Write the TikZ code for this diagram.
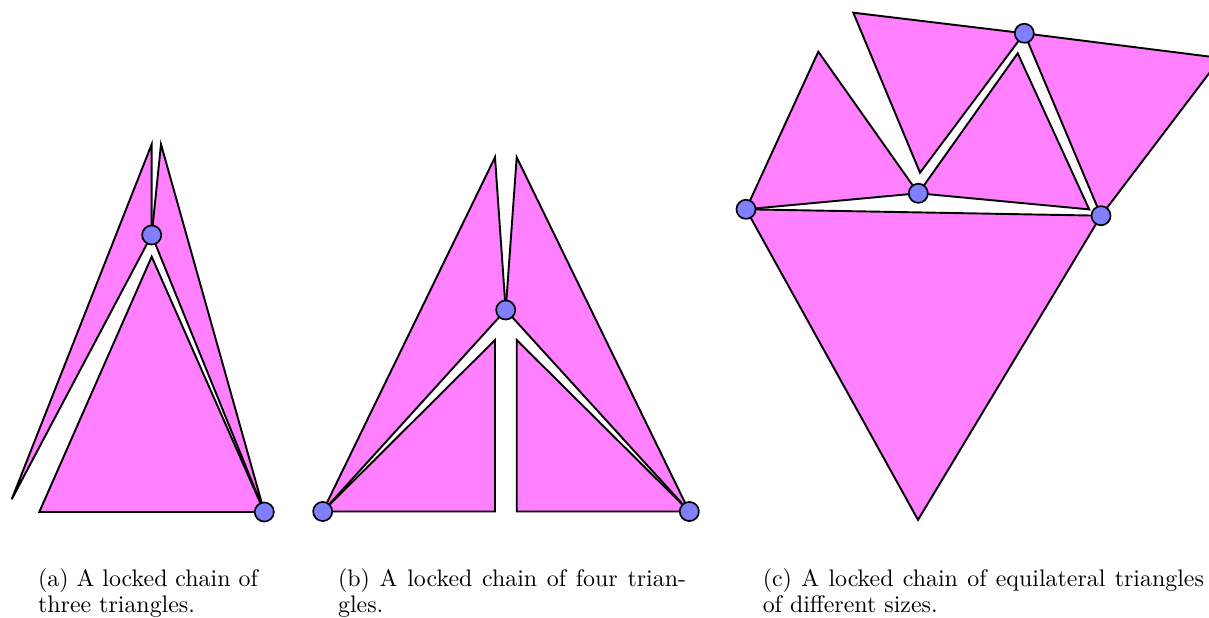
\documentclass[tikz,border=0pt]{standalone}
\usepackage{tikz}
\definecolor{trifill}{RGB}{255,128,255}
\definecolor{hingefill}{RGB}{128,128,255}
\tikzset{
  tri/.style={fill=trifill,draw=black,line width=.8pt},
  hinge/.style={fill=hingefill,draw=black,line width=.7pt},
  caption/.style={anchor=base west,inner sep=0pt,font=\fontsize{10}{11}\selectfont}
}
\begin{document}
\begin{tikzpicture}[x=.4184pt,y=-.4184pt]
  \useasboundingbox (0,0) rectangle (1209,618);
  % (a) three triangles
  \coordinate (a1) at (151.7,235);
  \coordinate (a2) at (264.3,512);
  \draw[tri] (151.7,144.3)--(11.7,499.3)--(a1)--cycle;
  \draw[tri] (161,144.3)--(a1)--(a2)--cycle;
  \draw[tri] (151.7,256.7)--(39.3,512)--(a2)--cycle;
  % (b) four triangles
  \coordinate (b1) at (322.7,511.5);
  \coordinate (b2) at (505.7,310);
  \coordinate (b3) at (689.3,511.5);
  \draw[tri] (495,157.3)--(b1)--(b2)--cycle;
  \draw[tri] (516.7,157.3)--(b2)--(b3)--cycle;
  \draw[tri] (b1)--(495,340)--(495,511.5)--cycle;
  \draw[tri] (516.7,340)--(516.7,511.5)--(b3)--cycle;
  % (c) equilateral triangles
  \coordinate (c1) at (746,209.3);
  \coordinate (c2) at (918.3,193.3);
  \coordinate (c3) at (1024.3,33.3);
  \coordinate (c4) at (1101,215.7);
  \draw[tri] (c1)--(c4)--(918,519.9)--cycle;
  \draw[tri] (c1)--(818.3,51.7)--(c2)--cycle;
  \draw[tri] (c2)--(1017.7,53.3)--(1089.2,209.4)--cycle;
  \draw[tri] (853.3,12.7)--(c3)--(920,172.7)--cycle;
  \draw[tri] (c3)--(1220.7,58)--(c4)--cycle;
  % hinges
  \foreach \p in {a1,a2,b1,b2,b3,c1,c2,c3,c4}
    \draw[hinge] (\p) circle (4pt);
  % captions
  \node[caption] (capa) at (37.6,586.7) {\parbox[t]{120pt}{(a) A locked chain of\\three triangles.}};
  \node[caption] (capb) at (337.6,586.7) {\parbox[t]{160pt}{\makebox[145.6pt][s]{(b) A locked chain of four trian-}\\gles.}};
  \node[caption] (capc) at (762.3,586.7) {\parbox[t]{200pt}{\makebox[184.6pt][s]{(c) A locked chain of equilateral triangles}\\of different sizes.}};
\end{tikzpicture}
\end{document}
